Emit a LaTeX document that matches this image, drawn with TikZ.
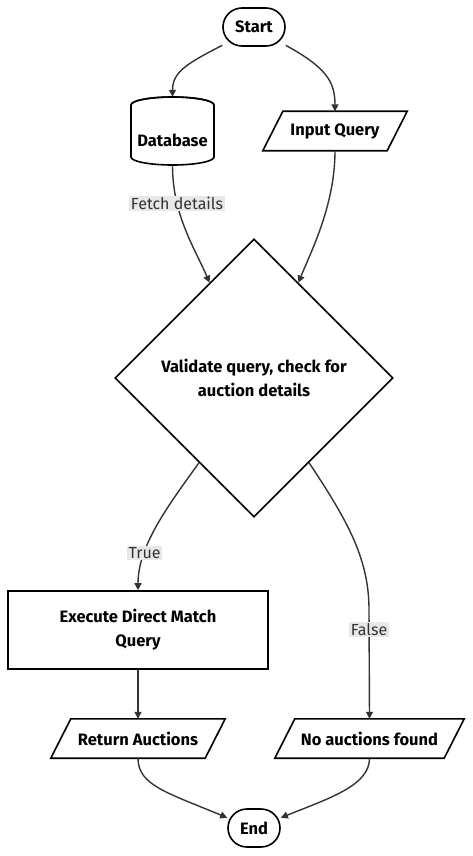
\documentclass[tikz,border=0pt]{standalone}
\usepackage{fontspec}
\setmainfont{Fira Sans}
\usetikzlibrary{shapes.geometric,arrows.meta,calc}
\definecolor{edgec}{HTML}{333333}
\definecolor{lblbg}{HTML}{E8E8E8}
\tikzset{
  txt/.style={font=\fontsize{16.5}{24}\selectfont\bfseries, align=center},
  nd/.style={txt, draw=black, line width=1.6pt, fill=white, inner sep=0pt},
  term/.style={nd, rounded corners=19pt, minimum width=62pt, minimum height=38pt},
  proc/.style={nd, minimum width=260pt, minimum height=78pt},
  decis/.style={nd, diamond, aspect=1, minimum width=278pt, minimum height=278pt},
  para/.style={inner sep=0pt, minimum height=39pt},
  conn/.style={draw=edgec, line width=1.4pt, -{Triangle[length=7pt,width=7pt]}},
  lbl/.style={fill=lblbg, text=edgec, font=\fontsize{16}{18}\selectfont, inner sep=1.5pt}
}
\begin{document}
\begin{tikzpicture}[x=1pt,y=-1pt]
\useasboundingbox (0,0) rectangle (472,856);
% nodes
\node[term] (st) at (254,27) {Start};
\node[inner sep=0pt, minimum width=83pt, minimum height=68pt] (db) at (172.5,131) {};
\draw[line width=1.6pt, fill=white] (131,105) -- (131,157) arc[start angle=180, end angle=360, x radius=41.5pt, y radius=8pt] -- (214,105) arc[start angle=0, end angle=180, x radius=41.5pt, y radius=8pt] -- cycle;
\draw[line width=1.6pt] (131,105) arc[start angle=180, end angle=360, x radius=41.5pt, y radius=-8pt];
\node[txt] at ([yshift=-9pt]db.center) {Database};
\node[para, minimum width=144pt] (iq) at (335,131) {};
\draw[line width=1.6pt, fill=white] ($(iq.north west)+(20,0)$) -- (iq.north east) -- ($(iq.south east)-(20,0)$) -- (iq.south west) -- cycle;
\node[txt] at (iq) {Input Query};
\node[decis] (dc) at (254,378) {Validate query, check for\\auction details};
\node[proc] (ex) at (138,630) {Execute Direct Match\\Query};
\node[para, minimum width=174pt] (ra) at (138,738.5) {};
\draw[line width=1.6pt, fill=white] ($(ra.north west)+(20,0)$) -- (ra.north east) -- ($(ra.south east)-(20,0)$) -- (ra.south west) -- cycle;
\node[txt] at (ra) {Return Auctions};
\node[para, minimum width=189pt] (na) at (369.5,738.5) {};
\draw[line width=1.6pt, fill=white] ($(na.north west)+(20,0)$) -- (na.north east) -- ($(na.south east)-(20,0)$) -- (na.south west) -- cycle;
\node[txt] at (na) {No auctions found};
\node[term, minimum width=52pt] (en) at (254,828) {End};
% edges
\draw[conn] (st.210) .. controls ++(-35,18) and ++(0,-25) .. (db.north);
\draw[conn] (st.330) .. controls ++(40,22) and ++(0,-30) .. (iq.north);
\draw[conn] (db.south) .. controls ++(0,50) and ++(-15,-35) .. node[lbl, pos=0.28] {Fetch details} (dc.115);
\draw[conn] (iq.south) .. controls ++(0,55) and ++(12,-30) .. (dc.65);
\draw[conn] (dc.237) .. controls ++(-30,42) and ++(0,-45) .. node[lbl, pos=0.72] {True} (ex.north);
\draw[conn] (dc.303) .. controls ++(40,60) and ++(0,-50) .. (369,610) -- node[lbl, pos=0.18] {False} (na.north);
\draw[conn] (ex.south) -- (ra.north);
\draw[conn] (ra.south) .. controls ++(0,27) and ++(-60,-25) .. (en.159);
\draw[conn] (na.south) .. controls ++(0,27) and ++(50,-20) .. (en.21);
\end{tikzpicture}
\end{document}
